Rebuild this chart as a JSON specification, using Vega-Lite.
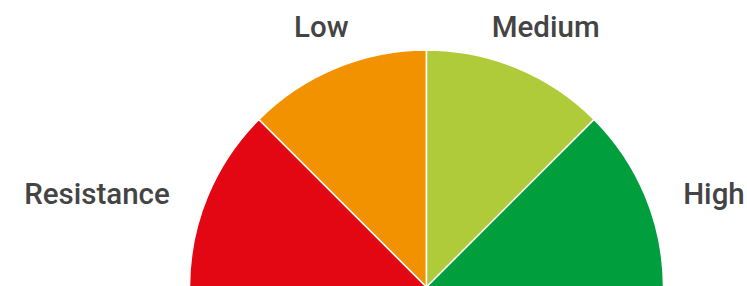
{
  "$schema": "https://vega.github.io/schema/vega-lite/v6.json",
  "width": 853,
  "height": 574,
  "autosize": "none",
  "padding": {"left": 0, "top": 0, "right": -106, "bottom": -288},
  "background": "white",
  "config": {"view": {"stroke": null}},
  "data": {"values": [
    {"label": "Resistance", "idx": 1, "v": 1},
    {"label": "Low", "idx": 2, "v": 1},
    {"label": "Medium", "idx": 3, "v": 1},
    {"label": "High", "idx": 4, "v": 1}
  ]},
  "encoding": {
    "theta": {"field": "v", "type": "quantitative", "stack": true, "scale": {"range": [-1.5707963, 1.5707963]}},
    "order": {"field": "idx", "type": "quantitative"}
  },
  "layer": [
    {
      "mark": {"type": "arc", "outerRadius": 237, "stroke": "white", "strokeWidth": 1.5},
      "encoding": {
        "color": {"field": "label", "type": "nominal", "legend": null,
          "scale": {"domain": ["Resistance", "Low", "Medium", "High"], "range": ["#e30613", "#f39200", "#b0cb39", "#009e3d"]}}
      }
    },
    {
      "mark": {"type": "text", "radius": 280, "font": "Roboto", "fontWeight": 500, "fontSize": 29.5, "fill": "#444444", "baseline": "middle",
        "align": {"expr": "datum.label == 'Resistance' ? 'right' : (datum.label == 'High' ? 'left' : 'center')"},
        "dx": {"expr": "datum.label == 'Resistance' ? 2 : (datum.label == 'High' ? -2 : (datum.label == 'Medium' ? 12 : 2))"},
        "dy": {"expr": "(datum.label == 'Resistance' || datum.label == 'High') ? 15 : -0.5"}
      },
      "encoding": {
        "text": {"field": "label", "type": "nominal"}
      }
    }
  ]
}
